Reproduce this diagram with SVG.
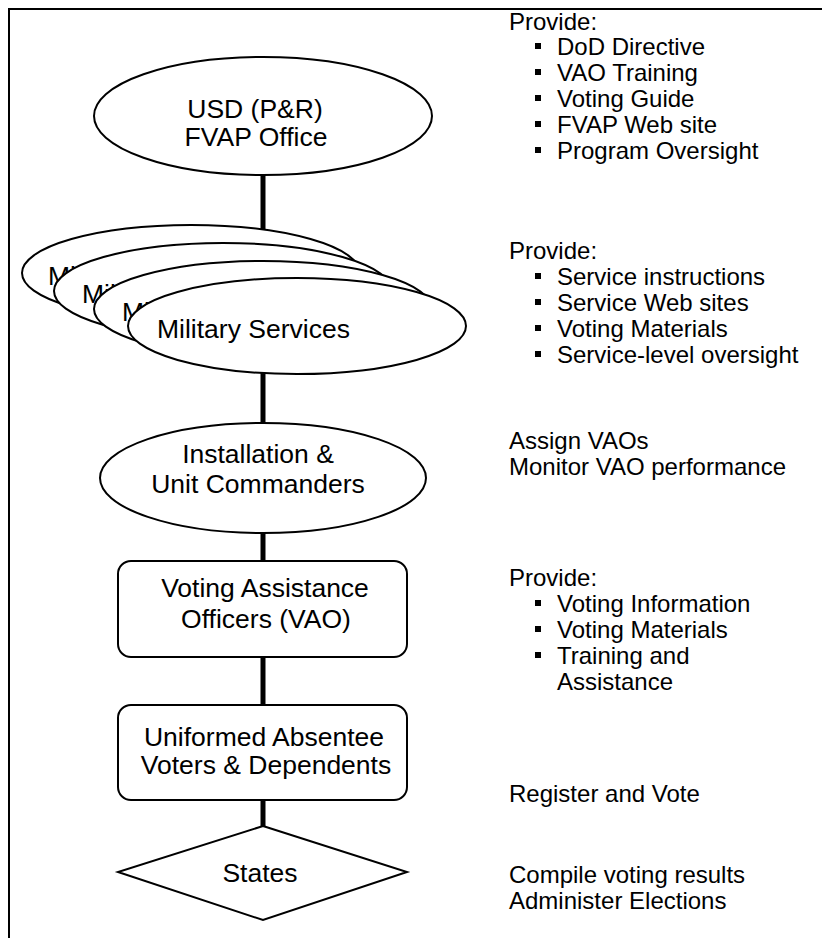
<svg xmlns="http://www.w3.org/2000/svg" width="822" height="938" viewBox="0 0 822 938">
<style>
.s{fill:#fff;stroke:#000;stroke-width:2}
.n{font-family:"Liberation Sans",Arial,sans-serif;font-size:26.5px;fill:#000;text-anchor:middle}
.ns{font-family:"Liberation Sans",Arial,sans-serif;font-size:26.5px;fill:#000}
.r{font-family:"Liberation Sans",Arial,sans-serif;font-size:24px;fill:#000}
.c{stroke:#000;stroke-width:5;fill:none}
</style>
<rect width="822" height="938" fill="#fff"/>
<path d="M9 938V9H822" fill="none" stroke="#000" stroke-width="2"/>
<g id="connectors">
<line class="c" x1="263" y1="175" x2="263" y2="280"/>
<line class="c" x1="263" y1="370" x2="263" y2="425"/>
<line class="c" x1="263" y1="530" x2="263" y2="562"/>
<line class="c" x1="263" y1="656" x2="263" y2="706"/>
<line class="c" x1="263" y1="799" x2="263" y2="827"/>
</g>
<g id="usd">
<ellipse class="s" cx="263" cy="116" rx="169" ry="59"/>
<text class="n" x="255" y="118">USD (P&amp;R)</text>
<text class="n" x="256" y="146">FVAP Office</text>
</g>
<g id="military">
<ellipse class="s" cx="191" cy="273" rx="169" ry="48"/>
<text class="ns" x="48" y="285">Military Services</text>
<ellipse class="s" cx="223" cy="291" rx="169" ry="48"/>
<text class="ns" x="82" y="303">Military Services</text>
<ellipse class="s" cx="263" cy="309" rx="169" ry="48"/>
<text class="ns" x="122" y="321">Military Services</text>
<ellipse class="s" cx="297" cy="326" rx="169" ry="48"/>
<text class="ns" x="157" y="338">Military Services</text>
</g>
<g id="installation">
<ellipse class="s" cx="263" cy="478" rx="163" ry="55"/>
<text class="n" x="258" y="463">Installation &amp;</text>
<text class="n" x="258" y="493">Unit Commanders</text>
</g>
<g id="vao">
<rect class="s" x="118" y="561" width="289" height="96" rx="13"/>
<text class="n" x="265" y="597">Voting Assistance</text>
<text class="n" x="266" y="628">Officers (VAO)</text>
</g>
<g id="voters">
<rect class="s" x="118" y="705" width="289" height="95" rx="13"/>
<text class="n" x="264" y="746">Uniformed Absentee</text>
<text class="n" x="266" y="774">Voters &amp; Dependents</text>
</g>
<g id="states">
<polygon class="s" points="263,826 407,872 263,920 118,872"/>
<text class="n" x="260" y="882">States</text>
</g>
<g id="notes">
<g class="r">
<text x="509" y="30">Provide:</text>
<text x="557" y="55">DoD Directive</text>
<text x="557" y="81">VAO Training</text>
<text x="557" y="107">Voting Guide</text>
<text x="557" y="133">FVAP Web site</text>
<text x="557" y="159">Program Oversight</text>
<text x="509" y="259">Provide:</text>
<text x="557" y="285">Service instructions</text>
<text x="557" y="311">Service Web sites</text>
<text x="557" y="337">Voting Materials</text>
<text x="557" y="363">Service-level oversight</text>
<text x="509" y="449">Assign VAOs</text>
<text x="509" y="475">Monitor VAO performance</text>
<text x="509" y="586">Provide:</text>
<text x="557" y="612">Voting Information</text>
<text x="557" y="638">Voting Materials</text>
<text x="557" y="664">Training and</text>
<text x="557" y="690">Assistance</text>
<text x="509" y="802">Register and Vote</text>
<text x="509" y="883">Compile voting results</text>
<text x="509" y="909">Administer Elections</text>
</g>
<g fill="#000">
<rect x="535" y="43" width="6" height="6"/>
<rect x="535" y="69" width="6" height="6"/>
<rect x="535" y="95" width="6" height="6"/>
<rect x="535" y="121" width="6" height="6"/>
<rect x="535" y="147" width="6" height="6"/>
<rect x="535" y="273" width="6" height="6"/>
<rect x="535" y="299" width="6" height="6"/>
<rect x="535" y="325" width="6" height="6"/>
<rect x="535" y="351" width="6" height="6"/>
<rect x="535" y="600" width="6" height="6"/>
<rect x="535" y="626" width="6" height="6"/>
<rect x="535" y="652" width="6" height="6"/>
</g>
</g>
</svg>
